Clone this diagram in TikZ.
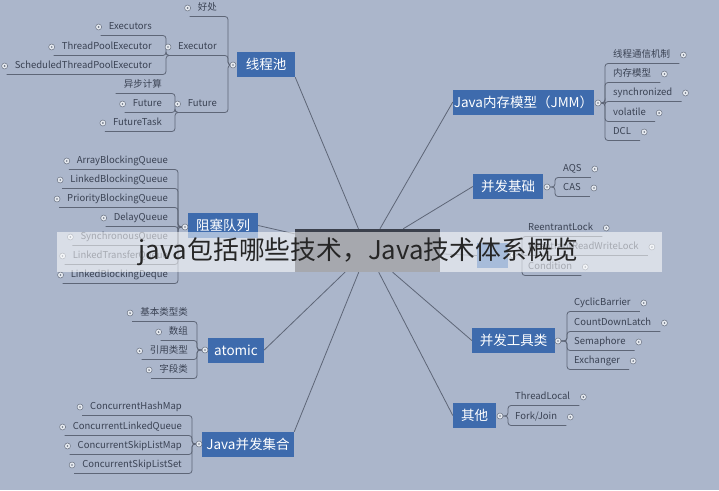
\documentclass[tikz,border=0pt]{standalone}
\usepackage{fontspec}
\setmainfont{Noto Sans CJK SC}
\usetikzlibrary{calc}
\pgfdeclarelayer{back}
\pgfdeclarelayer{lines}
\pgfdeclarelayer{top}
\pgfsetlayers{back,lines,main,top}
\definecolor{bgc}{HTML}{ABB6CB}
\definecolor{mainblue}{HTML}{3E6BAD}
\definecolor{rootc}{HTML}{3B404C}
\definecolor{leafc}{HTML}{3A4253}
\definecolor{linec}{HTML}{5E6677}
\definecolor{dotline}{HTML}{6A7282}
\definecolor{dotfill}{HTML}{E6EAF0}
\definecolor{bannertext}{HTML}{262626}
\newcommand\leaffont{\fontsize{9.5}{11}\selectfont}
\newcommand\mainfont{\fontsize{13.5}{15}\selectfont}
% left leaf: #1 parent point, #2 name, #3 text, #4 y, #5 trunk x, #6 text right x, #7 dot style
\newcommand\LL[7]{%
  \node[leaf,anchor=mid east] (#2) at (#6,#4) {#3};
  \coordinate (#2-e) at (#5,#4+8.5);
  \path (#2.mid west) ++(-10,0) coordinate (#2-c);
  \path (#2.mid west) ++(-8,0) coordinate (#2-u);
  \coordinate (#2-w) at (#2-u |- #2-e);
  \node[#7] at (#2-c) {};
  \begin{pgfonlayer}{lines}
  \draw[conn] (#1) -| (#2-e) -- (#2-w);
  \end{pgfonlayer}
}
% right leaf: #1 parent point, #2 name, #3 text, #4 y, #5 trunk x, #6 text left x
\newcommand\RL[6]{%
  \node[leaf,anchor=mid west] (#2) at (#6,#4) {#3};
  \coordinate (#2-w) at (#5,#4+8.5);
  \path (#2.mid east) ++(9,0) coordinate (#2-u);
  \path (#2.mid east) ++(13,0) coordinate (#2-c);
  \coordinate (#2-e) at (#2-u |- #2-w);
  \node[dotc] at (#2-c) {};
  \begin{pgfonlayer}{lines}
  \draw[conn] (#1) -| (#2-w) -- (#2-e);
  \end{pgfonlayer}
}
\begin{document}
\begin{tikzpicture}[x=1pt,y=-1pt,
  leaf/.style={text=leafc,font=\leaffont,inner sep=0pt},
  mainn/.style={fill=mainblue,text=white,font=\mainfont,minimum height=25pt,inner sep=0pt,anchor=center},
  conn/.style={draw=linec,line width=0.8pt,rounded corners=3pt},
  rootline/.style={draw=linec,line width=0.8pt},
  dotc/.style={circle,draw=dotline,fill=dotfill,minimum size=6pt,inner sep=0pt,line width=0.5pt,
    path picture={\fill[dotline] (path picture bounding box.center) circle (0.9pt);}},
  nodot/.style={inner sep=0pt,draw=none,fill=none}]
\useasboundingbox (0,0) rectangle (719,490);
\begin{pgfonlayer}{back}
\fill[bgc] (0,0) rectangle (719,490);
\end{pgfonlayer}

% root and main nodes
\node[fill=rootc,minimum width=145pt,minimum height=43pt,inner sep=0pt] (root) at (367.5,250.5) {};
\node[mainn,minimum width=58pt] (tp) at (266,64.5) {线程池};
\node[mainn,minimum width=70pt] (bq) at (223,225.5) {阻塞队列};
\node[mainn,minimum width=56pt] (atm) at (236,350) {atomic};
\node[mainn,minimum width=92pt] (jcc) at (248,444.5) {Java并发集合};
\node[mainn,minimum width=141pt] (jmm) at (523.5,102) {Java内存模型（JMM）};
\node[mainn,minimum width=70pt] (cb) at (508,186.5) {并发基础};
\node[mainn,minimum width=31pt] (lk) at (492.5,255.5) {};
\node[mainn,minimum width=83pt] (tool) at (513.5,340.5) {并发工具类};
\node[mainn,minimum width=43pt] (qt) at (474.5,415.5) {其他};

\begin{pgfonlayer}{lines}
\draw[rootline] (root) -- (tp.south east);
\draw[rootline] (root) -- (bq.east);
\draw[rootline] (root) -- (atm.east);
\draw[rootline] (root) -- (jcc.north east);
\draw[rootline] (root) -- (jmm.west);
\draw[rootline] (root) -- (cb.west);
\draw[rootline] (root) -- (lk.west);
\draw[rootline] (root) -- (tool.west);
\draw[rootline] (root) -- (qt.west);
\end{pgfonlayer}

% connection points of main nodes
\coordinate (tpP) at (233,65);
\coordinate (bqP) at (185,227);
\coordinate (atP) at (205,350);
\coordinate (jccP) at (199,444);
\coordinate (jmmP) at (598,103);
\coordinate (cbP) at (547,187);
\coordinate (lkP) at (513,255);
\coordinate (toolP) at (558,341);
\coordinate (qtP) at (500,416);

% 线程池
\LL{tpP}{hc}{好处}{8}{228}{217}{dotc}
\LL{tpP}{ex}{Executor}{47}{228}{217}{dotc}
\LL{tpP}{fu}{Future}{104}{228}{217}{dotc}
\LL{ex-w}{exs}{Executors}{27}{166}{152}{dotc}
\LL{ex-w}{tpe}{ThreadPoolExecutor}{47}{166}{152}{dotc}
\LL{ex-w}{stpe}{ScheduledThreadPoolExecutor}{66}{166}{152}{dotc}
\LL{fu-w}{ybjs}{异步计算}{85}{175}{162}{nodot}
\LL{fu-w}{fu2}{Future}{104}{175}{162}{dotc}
\LL{fu-w}{ft}{FutureTask}{123}{175}{162}{dotc}

% 阻塞队列
\LL{bqP}{abq}{ArrayBlockingQueue}{161}{178}{168}{dotc}
\LL{bqP}{lbq}{LinkedBlockingQueue}{180}{178}{168}{dotc}
\LL{bqP}{pbq}{PriorityBlockingQueue}{199}{178}{168}{dotc}
\LL{bqP}{dq}{DelayQueue}{218}{178}{168}{dotc}
\LL{bqP}{sq}{SynchronousQueue}{237}{178}{168}{dotc}
\LL{bqP}{ltq}{LinkedTransferQueue}{256}{178}{168}{dotc}
\LL{bqP}{lbd}{LinkedBlockingDeque}{275}{178}{168}{dotc}

% atomic
\LL{atP}{jblx}{基本类型类}{313}{197}{188}{dotc}
\LL{atP}{sz}{数组}{332}{197}{188}{dotc}
\LL{atP}{yylx}{引用类型}{351}{197}{188}{dotc}
\LL{atP}{zdl}{字段类}{370}{197}{188}{dotc}

% Java并发集合
\LL{jccP}{chm}{ConcurrentHashMap}{407}{192}{182}{dotc}
\LL{jccP}{clq}{ConcurrentLinkedQueue}{427}{192}{182}{dotc}
\LL{jccP}{cslm}{ConcurrentSkipListMap}{446}{192}{182}{dotc}
\LL{jccP}{csls}{ConcurrentSkipListSet}{465}{192}{182}{dotc}

% JMM
\RL{jmmP}{txjz}{线程通信机制}{55}{605}{613}
\RL{jmmP}{ncmx}{内存模型}{74}{605}{613}
\RL{jmmP}{syn}{synchronized}{93}{605}{613}
\RL{jmmP}{vol}{volatile}{113}{605}{613}
\RL{jmmP}{dcl}{DCL}{132}{605}{613}

% 并发基础
\RL{cbP}{aqs}{AQS}{169}{555}{563}
\RL{cbP}{cas}{CAS}{188}{555}{563}

% lock
\RL{lkP}{rl}{ReentrantLock}{228}{522}{528}
\RL{lkP}{rrwl}{ReentrantReadWriteLock}{247}{522}{528}
\RL{lkP}{cond}{Condition}{267}{522}{528}

% 并发工具类
\RL{toolP}{cyb}{CyclicBarrier}{303}{567}{574}
\RL{toolP}{cdl}{CountDownLatch}{323}{567}{574}
\RL{toolP}{sem}{Semaphore}{342}{567}{574}
\RL{toolP}{exc}{Exchanger}{361}{567}{574}

% 其他
\RL{qtP}{tl}{ThreadLocal}{397}{508}{515}
\RL{qtP}{fj}{Fork/Join}{417}{508}{515}

% dots on main nodes
\foreach \p in {tpP,bqP,atP,jccP,jmmP,cbP,lkP,toolP,qtP}
  \node[dotc] at (\p) {};

% banner
\begin{pgfonlayer}{top}
\fill[white,opacity=0.55] (57,232) rectangle (662,272);
\node[text=bannertext,font=\fontsize{25.8}{28}\selectfont,inner sep=0pt] (banner) at (358.5,252) {java包括哪些技术，Java技术体系概览};
\end{pgfonlayer}
\end{tikzpicture}
\end{document}
